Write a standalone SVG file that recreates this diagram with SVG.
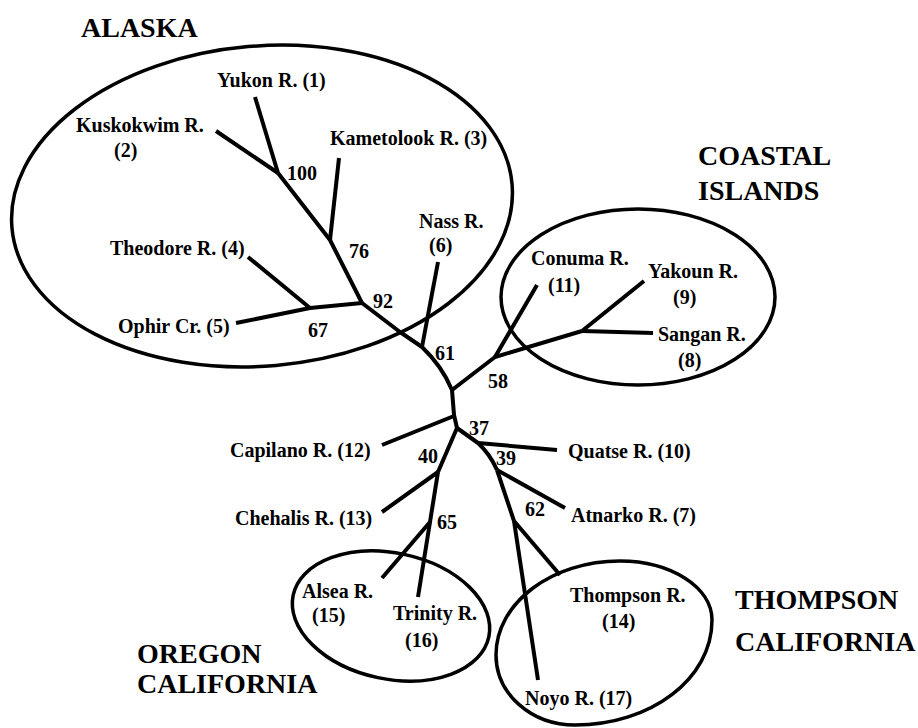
<svg xmlns="http://www.w3.org/2000/svg" width="918" height="728" viewBox="0 0 918 728">
<style>
.lbl{font-family:"Liberation Serif","Times New Roman",serif;font-weight:bold;font-size:20px;fill:#000}
.big{font-family:"Liberation Serif","Times New Roman",serif;font-weight:bold;font-size:28px;fill:#000}
.br{fill:none;stroke:#000;stroke-width:4;stroke-linejoin:round;stroke-linecap:butt}
.grp{fill:none;stroke:#000;stroke-width:3.5}
</style>
<rect width="918" height="728" fill="#fff"/>
<g id="clusters">
<ellipse id="alaska" class="grp" cx="262" cy="206" rx="251" ry="160" transform="rotate(-5 262 206)"/>
<ellipse id="coastal" class="grp" cx="638" cy="297" rx="137" ry="88"/>
<ellipse id="oregon" class="grp" cx="391" cy="616" rx="100" ry="63" transform="rotate(12 391 616)"/>
<path id="thompson" class="grp" d="M496,655 C496,603 551.6,561 620,561 C670.8,561 712,587.4 712,620 C712,679 650.6,725 575,725 C531.4,725 496,694 496,655 Z"/>
</g>
<g id="connectors">
<polyline class="br" points="255,97 278,173"/>
<polyline class="br" points="216,131 278,173"/>
<polyline class="br" points="278,173 330,240 362,303"/>
<polyline class="br" points="339,158 330,240"/>
<polyline class="br" points="248,257 310,308"/>
<polyline class="br" points="236,323 310,308 362,303"/>
<path class="br" d="M362,303 L400,332 L422,347 Q442,366 452,390 L454,415 L457,428"/>
<polyline class="br" points="438,262 422,347"/>
<polyline class="br" points="452,390 495,357 582,331"/>
<polyline class="br" points="495,357 537,285"/>
<polyline class="br" points="582,331 644,281"/>
<polyline class="br" points="582,331 653,333"/>
<polyline class="br" points="382,445 454,416"/>
<path class="br" d="M457,428 L478,443 Q490,454 497,470"/>
<polyline class="br" points="478,443 557,450"/>
<polyline class="br" points="497,470 565,508"/>
<polyline class="br" points="497,470 514,521"/>
<polyline class="br" points="514,521 538,680"/>
<polyline class="br" points="514,521 560,575"/>
<polyline class="br" points="457,428 438,472"/>
<polyline class="br" points="438,472 382,512"/>
<polyline class="br" points="438,472 418,597"/>
<polyline class="br" points="430,522 382,578"/>
</g>
<g id="region-labels">
<text class="big" x="81" y="37">ALASKA</text>
<text class="big" x="698" y="165">COASTAL</text>
<text class="big" x="698" y="200">ISLANDS</text>
<text class="big" x="735" y="609">THOMPSON</text>
<text class="big" x="735" y="651">CALIFORNIA</text>
<text class="big" x="137" y="663">OREGON</text>
<text class="big" x="137" y="693">CALIFORNIA</text>
</g>
<g id="bootstrap">
<text class="lbl" x="287" y="180">100</text>
<text class="lbl" x="349" y="258">76</text>
<text class="lbl" x="373" y="308">92</text>
<text class="lbl" x="308" y="337">67</text>
<text class="lbl" x="435" y="360">61</text>
<text class="lbl" x="488" y="388">58</text>
<text class="lbl" x="469" y="435">37</text>
<text class="lbl" x="418" y="463">40</text>
<text class="lbl" x="496" y="465">39</text>
<text class="lbl" x="525" y="516">62</text>
<text class="lbl" x="437" y="529">65</text>
</g>
<g id="n1"><text class="lbl" x="217" y="87">Yukon R. (1)</text></g>
<g id="n2"><text class="lbl" x="76" y="132">Kuskokwim R.</text><text class="lbl" x="114" y="157">(2)</text></g>
<g id="n3"><text class="lbl" x="330" y="145">Kametolook R. (3)</text></g>
<g id="n4"><text class="lbl" x="110" y="255">Theodore R. (4)</text></g>
<g id="n5"><text class="lbl" x="118" y="333">Ophir Cr. (5)</text></g>
<g id="n6"><text class="lbl" x="419" y="228">Nass R.</text><text class="lbl" x="429" y="252">(6)</text></g>
<g id="n11"><text class="lbl" x="531" y="265">Conuma R.</text><text class="lbl" x="548" y="292">(11)</text></g>
<g id="n9"><text class="lbl" x="648" y="278">Yakoun R.</text><text class="lbl" x="673" y="304">(9)</text></g>
<g id="n8"><text class="lbl" x="658" y="341">Sangan R.</text><text class="lbl" x="678" y="367">(8)</text></g>
<g id="n12"><text class="lbl" x="230" y="457">Capilano R. (12)</text></g>
<g id="n10"><text class="lbl" x="568" y="458">Quatse R. (10)</text></g>
<g id="n13"><text class="lbl" x="235" y="525">Chehalis R. (13)</text></g>
<g id="n7"><text class="lbl" x="571" y="522">Atnarko R. (7)</text></g>
<g id="n15"><text class="lbl" x="302" y="598">Alsea R.</text><text class="lbl" x="312" y="622">(15)</text></g>
<g id="n16"><text class="lbl" x="393" y="620">Trinity R.</text><text class="lbl" x="405" y="647">(16)</text></g>
<g id="n14"><text class="lbl" x="570" y="602">Thompson R.</text><text class="lbl" x="602" y="628">(14)</text></g>
<g id="n17"><text class="lbl" x="525" y="705">Noyo R. (17)</text></g>
</svg>
